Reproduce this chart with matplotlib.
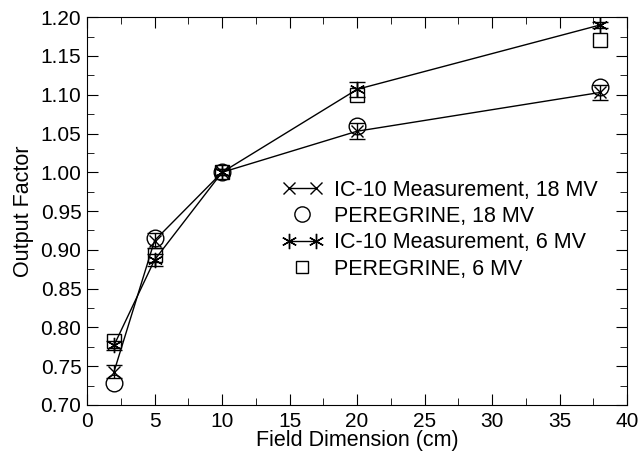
import numpy as np
import matplotlib
matplotlib.use('Agg')
import matplotlib.pyplot as plt
from matplotlib.ticker import MultipleLocator
from matplotlib.lines import Line2D
from matplotlib.legend_handler import HandlerLine2D

plt.rcParams['font.family'] = ['Liberation Sans', 'DejaVu Sans']

field = [2, 5, 10, 20, 38]
ic10_18 = [0.743, 0.912, 1.000, 1.053, 1.103]
ic10_18_err = [0.008, 0.010, 0.004, 0.010, 0.010]
pere_18 = [0.728, 0.915, 1.000, 1.060, 1.110]
ic10_6 = [0.777, 0.887, 1.000, 1.107, 1.190]
ic10_6_err = [0.006, 0.008, 0.004, 0.010, 0.004]
pere_6 = [0.783, 0.893, 1.000, 1.100, 1.170]

star = (6, 2, 0)

fig = plt.figure(figsize=(6.4, 4.53), dpi=100)
ax = fig.add_axes([0.136, 0.106, 0.844, 0.856])

ax.errorbar(field, ic10_18, yerr=ic10_18_err, color='black', lw=1.0,
            marker='x', ms=9, mew=1.0, capsize=5.5, elinewidth=1.0)
ax.plot(field, pere_18, 'o', ms=12, mfc='none', mec='black', mew=1.0)
ax.errorbar(field, ic10_6, yerr=ic10_6_err, color='black', lw=1.0,
            marker=star, ms=11, mew=1.0, capsize=5.5, elinewidth=1.0)
ax.plot(field, pere_6, 's', ms=10, mfc='none', mec='black', mew=1.0)

ax.set_xlim(0, 40)
ax.set_ylim(0.70, 1.20)
ax.xaxis.set_major_locator(MultipleLocator(5))
ax.xaxis.set_minor_locator(MultipleLocator(2.5))
ax.yaxis.set_minor_locator(MultipleLocator(0.025))
yt = np.arange(0.70, 1.201, 0.05)
ax.set_yticks(yt)
ax.set_yticklabels([f'{v:.2f}' for v in yt])
ax.tick_params(which='both', direction='in', top=True, right=True, labelsize=15)
ax.tick_params(which='major', length=8)
ax.tick_params(which='minor', length=5)
ax.tick_params(axis='x', pad=5)
ax.tick_params(axis='y', pad=4)

ax.set_xlabel('Field Dimension (cm)', fontsize=15.5, labelpad=-1)
ax.set_ylabel('Output Factor', fontsize=15.5, labelpad=5)

h1 = Line2D([], [], color='black', lw=1.0, marker='x', ms=9, mew=1.0)
h2 = Line2D([], [], ls='none', marker='o', ms=11, mfc='none', mec='black', mew=1.0)
h3 = Line2D([], [], color='black', lw=1.0, marker=star, ms=11, mew=1.0)
h4 = Line2D([], [], ls='none', marker='s', ms=9, mfc='none', mec='black', mew=1.0)
labels = ['IC-10 Measurement, 18 MV', 'PEREGRINE, 18 MV',
          'IC-10 Measurement, 6 MV', 'PEREGRINE, 6 MV']
ax.legend([h1, h2, h3, h4], labels, loc='center left',
          bbox_to_anchor=(0.362, 0.452), borderpad=0, borderaxespad=0,
          frameon=False, fontsize=15.5, numpoints=2, handlelength=1.85,
          handletextpad=0.55, labelspacing=0.25,
          handler_map={h2: HandlerLine2D(numpoints=1), h4: HandlerLine2D(numpoints=1)})

fig.savefig('out.png', dpi=100)
